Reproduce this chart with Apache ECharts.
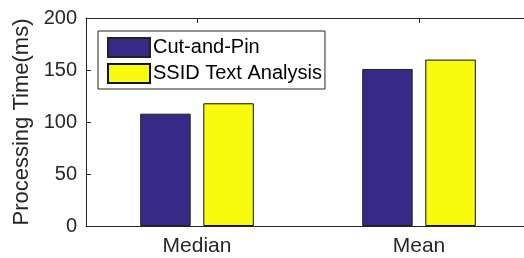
<!DOCTYPE html>
<html>
<head>
<meta charset="utf-8">
<style>
  html, body { margin: 0; padding: 0; background: #fff; }
  #chart { width: 524px; height: 258px; }
</style>
<script src="https://cdn.jsdelivr.net/npm/echarts@6/dist/echarts.min.js"></script>
</head>
<body>
<div id="chart"></div>
<script>
// values
const categories = ["Median", "Mean"];
const cutAndPin = [108, 151];
const ssidText = [118, 160];
const yTicks = [0, 50, 100, 150, 200];

const font = "'Liberation Sans', Arial, Helvetica, sans-serif";
const ink = "#262626";

const chart = echarts.init(document.getElementById("chart"), null, { renderer: "canvas" });

chart.setOption({
  animation: false,
  textStyle: { fontFamily: font, color: ink },
  // the plot box runs a little past the right edge of the picture
  grid: { left: 86, top: 18, width: 444, height: 208, outerBoundsMode: "none", containLabel: false },
  legend: {
    orient: "vertical",
    left: 98,
    top: 31,
    padding: [6, 3, 5, 9],
    itemGap: 5,
    itemWidth: 42,
    itemHeight: 19,
    icon: "rect",
    borderColor: ink,
    borderWidth: 1,
    backgroundColor: "#fff",
    textStyle: { fontFamily: font, fontSize: 20, color: "#000", lineHeight: 19, padding: [0, 0, 0, -2] },
    data: ["Cut-and-Pin", "SSID Text Analysis"],
  },
  xAxis: [
    {
      type: "category",
      data: categories,
      axisLine: { lineStyle: { color: ink, width: 1 } },
      axisTick: { inside: true, length: 5, alignWithLabel: true, lineStyle: { color: ink } },
      axisLabel: { fontFamily: font, fontSize: 21, color: ink, margin: 10 },
    },
    {
      type: "category",
      position: "top",
      data: categories,
      axisLine: { show: true, lineStyle: { color: ink, width: 1 } },
      axisTick: { show: true, inside: true, length: 5, alignWithLabel: true, lineStyle: { color: ink } },
      axisLabel: { show: false },
    },
  ],
  yAxis: {
    type: "value",
    min: yTicks[0],
    max: yTicks[yTicks.length - 1],
    interval: 50,
    name: "Processing Time(ms)",
    nameLocation: "middle",
    nameGap: 52,
    nameTextStyle: { fontFamily: font, fontSize: 22, color: ink },
    axisLine: { show: true, lineStyle: { color: ink, width: 1 } },
    axisTick: { show: true, inside: true, length: 5, lineStyle: { color: ink } },
    axisLabel: { fontFamily: font, fontSize: 20, color: ink, margin: 9 },
    splitLine: { show: false },
  },
  series: [
    {
      name: "Cut-and-Pin",
      type: "bar",
      data: cutAndPin,
      barWidth: 50.5,
      barGap: "25%",
      itemStyle: { color: "#352a87", borderColor: "#222", borderWidth: 1 },
    },
    {
      name: "SSID Text Analysis",
      type: "bar",
      data: ssidText,
      barWidth: 50.5,
      barGap: "25%",
      itemStyle: { color: "#f9fb0e", borderColor: "#111", borderWidth: 1 },
    },
  ],
});
</script>
</body>
</html>
